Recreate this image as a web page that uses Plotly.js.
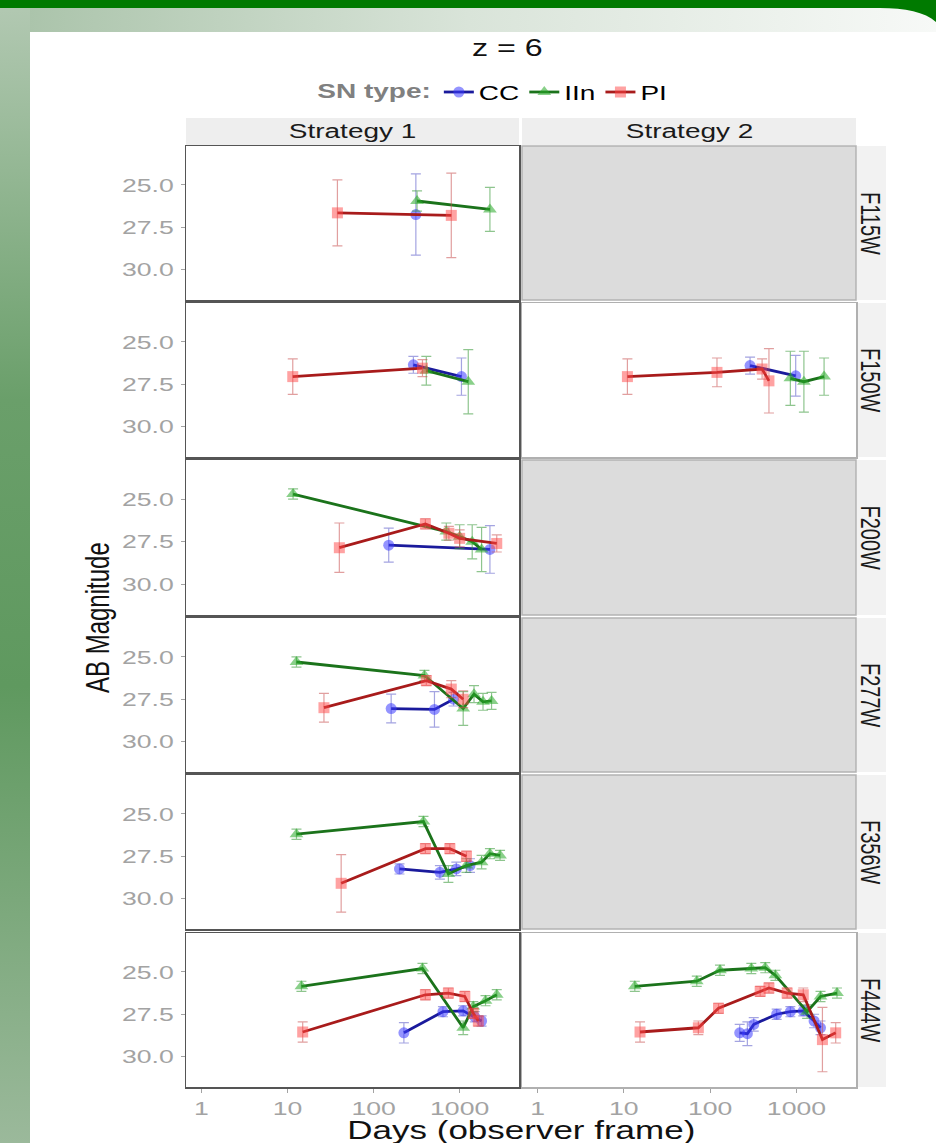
<!DOCTYPE html>
<html><head><meta charset="utf-8">
<script src="https://cdn.plot.ly/plotly-3.0.1.min.js"></script>
<style>
html,body{margin:0;padding:0;}
body{width:936px;height:1143px;position:relative;overflow:hidden;background:#fff;}
#bg{position:absolute;left:0;top:0;width:936px;height:1143px;}
#plot{position:absolute;left:0;top:0;width:936px;height:1143px;}
</style></head>
<body>
<div id="bg">
<svg width="936" height="1143" xmlns="http://www.w3.org/2000/svg">
<defs>
<linearGradient id="lg" x1="0" y1="0" x2="0" y2="1">
<stop offset="0" stop-color="#b3c9b3"/><stop offset="0.35" stop-color="#6a9f6a"/><stop offset="0.6" stop-color="#5f995f"/><stop offset="1" stop-color="#9bb99b"/>
</linearGradient>
<linearGradient id="tg" x1="0" y1="0" x2="1" y2="0">
<stop offset="0" stop-color="#a8c2a8"/><stop offset="0.5" stop-color="#d9e4d9"/><stop offset="1" stop-color="#f7f9f7"/>
</linearGradient>
</defs>
<rect x="0" y="0" width="936" height="1143" fill="#ffffff"/>
<rect x="0" y="0" width="936" height="32" fill="url(#tg)"/>
<rect x="0" y="0" width="30" height="1143" fill="url(#lg)"/>
<path d="M0,0 H936 V22 C925,12 905,8 880,8 H0 Z" fill="#007a00"/>
</svg>
</div>
<div id="plot"></div>
<script>
// ---- categories / labels ----
const filters = ["F115W","F150W","F200W","F277W","F356W","F444W"];
const strategies = ["Strategy 1","Strategy 2"];
const snTypes = ["CC","IIn","PI"];
const yTickVals = [25, 27.5, 30];
const yTickText = ["25.0","27.5","30.0"];
const xTickVals = [1, 10, 100, 1000];
const xTickText = ["1","10","100","1000"];

// ---- CC, Strategy 1 ----
const cc_s1_filter = ["F115W","F150W","F150W","F200W","F200W","F277W","F277W","F277W","F356W","F356W","F356W","F356W","F444W","F444W","F444W","F444W","F444W"];
const cc_s1_days   = [310, 290, 1050, 150, 2250, 160, 510, 850, 200, 590, 915, 1320, 225, 640, 1100, 1500, 1800];
const cc_s1_mag    = [26.75, 26.35, 27.05, 27.7, 27.95, 28.05, 28.1, 27.5, 28.25, 28.45, 28.25, 28.05, 28.6, 27.35, 27.3, 27.65, 27.9];
const cc_s1_err    = [2.4, 0.5, 1.1, 1.0, 1.4, 0.85, 1.05, 0.4, 0.3, 0.4, 0.4, 0.4, 0.6, 0.3, 0.3, 0.3, 0.3];

// ---- CC, Strategy 2 ----
const cc_s2_filter = ["F150W","F150W","F444W","F444W","F444W","F444W","F444W","F444W","F444W","F444W"];
const cc_s2_days   = [290, 980, 220, 270, 320, 590, 850, 1200, 1600, 1900];
const cc_s2_mag    = [26.4, 27.0, 28.6, 28.65, 28.1, 27.5, 27.35, 27.3, 27.9, 28.3];
const cc_s2_err    = [0.5, 1.2, 0.5, 0.7, 0.4, 0.3, 0.3, 0.3, 0.4, 0.4];

// ---- IIn, Strategy 1 ----
const iin_s1_filter = ["F115W","F115W","F150W","F150W","F200W","F200W","F200W","F200W","F200W","F277W","F277W","F277W","F277W","F277W","F277W","F356W","F356W","F356W","F356W","F356W","F356W","F356W","F444W","F444W","F444W","F444W","F444W","F444W"];
const iin_s1_days   = [320, 2250, 410, 1260, 11.6, 700, 1000, 1400, 1800, 12.7, 390, 1100, 1470, 1870, 2350, 12.7, 380, 740, 1200, 1800, 2250, 2950, 14.5, 370, 1100, 1440, 2000, 2700];
const iin_s1_mag    = [25.95, 26.45, 26.7, 27.35, 24.7, 26.9, 27.2, 27.5, 27.95, 25.3, 26.1, 28.05, 27.2, 27.65, 27.6, 26.2, 25.45, 28.55, 28.05, 27.85, 27.35, 27.45, 25.85, 24.8, 28.3, 27.05, 26.7, 26.35];
const iin_s1_err    = [0.6, 1.3, 0.85, 1.9, 0.3, 0.5, 0.7, 1.0, 1.3, 0.3, 0.3, 1.0, 0.5, 0.5, 0.5, 0.3, 0.3, 0.5, 0.4, 0.4, 0.3, 0.3, 0.3, 0.3, 0.4, 0.3, 0.3, 0.3];

// ---- IIn, Strategy 2 ----
const iin_s2_filter = ["F150W","F150W","F150W","F444W","F444W","F444W","F444W","F444W","F444W","F444W","F444W","F444W"];
const iin_s2_days   = [850, 1220, 2090, 13.4, 70, 130, 300, 435, 570, 1330, 1900, 2950];
const iin_s2_mag    = [27.15, 27.35, 27.05, 25.85, 25.55, 24.9, 24.8, 24.75, 25.2, 27.35, 26.45, 26.25];
const iin_s2_err    = [1.6, 1.8, 1.1, 0.3, 0.3, 0.3, 0.3, 0.3, 0.3, 0.4, 0.3, 0.3];

// ---- PI, Strategy 1 ----
const pi_s1_filter = ["F115W","F115W","F150W","F150W","F200W","F200W","F200W","F200W","F200W","F277W","F277W","F277W","F277W","F356W","F356W","F356W","F356W","F444W","F444W","F444W","F444W","F444W","F444W"];
const pi_s1_days   = [38, 800, 11.5, 370, 40, 400, 750, 1000, 2700, 26.5, 410, 800, 1100, 42, 400, 770, 1200, 15, 400, 740, 1150, 1440, 1650];
const pi_s1_mag    = [26.65, 26.8, 27.05, 26.55, 27.85, 26.45, 27.0, 27.3, 27.6, 28.0, 26.4, 26.9, 27.5, 29.1, 27.05, 27.05, 27.5, 28.55, 26.35, 26.25, 26.45, 27.45, 27.9];
const pi_s1_err    = [1.95, 2.5, 1.05, 0.5, 1.45, 0.3, 0.4, 0.5, 0.5, 0.85, 0.3, 0.5, 0.5, 1.7, 0.3, 0.3, 0.3, 0.6, 0.3, 0.3, 0.3, 0.3, 0.3];

// ---- PI, Strategy 2 ----
const pi_s2_filter = ["F150W","F150W","F150W","F150W","F444W","F444W","F444W","F444W","F444W","F444W","F444W","F444W","F444W"];
const pi_s2_days   = [11, 120, 400, 480, 15.4, 73, 125, 380, 480, 780, 1200, 2000, 2850];
const pi_s2_mag    = [27.05, 26.8, 26.6, 27.3, 28.55, 28.3, 27.15, 26.15, 25.95, 26.25, 26.35, 29.0, 28.6];
const pi_s2_err    = [1.05, 0.85, 0.6, 1.9, 0.6, 0.4, 0.3, 0.3, 0.3, 0.3, 0.4, 1.9, 0.6];

// ---- layout geometry (pixels) ----
const W = 936, H = 1143;
const colX = [[186, 519], [522, 856]];
const rowY = [[146, 300], [303, 457], [460, 615], [618, 772], [775, 929], [933, 1087]];
const px = v => v / W;
const py = v => 1 - v / H;
const STRETCH = 1.4;   // reference text is horizontally stretched
const LEGEND_CENTER = 494;

const styles = {
  CC:  {line: '#1a1a9c', marker: 'rgba(60,60,255,0.55)', err: 'rgba(90,90,200,0.55)', symbol: 'circle', size: 11},
  IIn: {line: '#1b731b', marker: 'rgba(40,170,40,0.55)', err: 'rgba(50,150,50,0.55)', symbol: 'triangle-up', size: 12},
  PI:  {line: '#a81b1b', marker: 'rgba(255,70,70,0.5)', err: 'rgba(200,80,80,0.55)', symbol: 'square', size: 11}
};

const traces = [];
const shownLegend = {};
function addSeries(type, si, filt, days, mag, err) {
  const st = styles[type];
  filters.forEach((f, fi) => {
    const idx = filt.map((v, i) => v === f ? i : -1).filter(i => i >= 0);
    if (!idx.length) return;
    const k = fi * 2 + si + 1;
    traces.push({
      type: 'scatter', mode: 'lines+markers',
      x: idx.map(i => days[i]), y: idx.map(i => mag[i]),
      error_y: {type: 'data', array: idx.map(i => err[i]), visible: true, color: st.err, thickness: 1.2, width: 5},
      xaxis: k === 1 ? 'x' : 'x' + k, yaxis: k === 1 ? 'y' : 'y' + k,
      line: {color: st.line, width: 2.8},
      marker: {symbol: st.symbol, size: st.size, color: st.marker},
      name: type, legendgroup: type, showlegend: !shownLegend[type],
      hoverinfo: 'skip'
    });
    shownLegend[type] = true;
  });
}
addSeries('CC', 0, cc_s1_filter, cc_s1_days, cc_s1_mag, cc_s1_err);
addSeries('CC', 1, cc_s2_filter, cc_s2_days, cc_s2_mag, cc_s2_err);
addSeries('IIn', 0, iin_s1_filter, iin_s1_days, iin_s1_mag, iin_s1_err);
addSeries('IIn', 1, iin_s2_filter, iin_s2_days, iin_s2_mag, iin_s2_err);
addSeries('PI', 0, pi_s1_filter, pi_s1_days, pi_s1_mag, pi_s1_err);
addSeries('PI', 1, pi_s2_filter, pi_s2_days, pi_s2_mag, pi_s2_err);

const tickFont = {family: 'Liberation Sans, Arial, sans-serif', size: 19, color: '#a3a3a3'};
const layout = {
  width: W, height: H,
  margin: {l: 0, r: 0, t: 0, b: 0},
  paper_bgcolor: 'rgba(0,0,0,0)', plot_bgcolor: '#ffffff',
  font: {family: 'Liberation Sans, Arial, sans-serif', color: '#000'},
  showlegend: true,
  legend: {
    orientation: 'h', x: px(LEGEND_CENTER), y: py(92), xanchor: 'center', yanchor: 'middle',
    font: {size: 20, color: '#000'}, bgcolor: 'rgba(0,0,0,0)',
    title: {text: '<b>SN type:</b>', font: {size: 20, color: '#808080'}, side: 'left'},
    itemwidth: 30, tracegroupgap: 0
  },
  shapes: [], annotations: []
};

const hasData = new Set(traces.map(t => t.xaxis));
filters.forEach((f, fi) => {
  strategies.forEach((s, si) => {
    const k = fi * 2 + si + 1;
    const xa = 'xaxis' + (k === 1 ? '' : k), ya = 'yaxis' + (k === 1 ? '' : k);
    const xid = k === 1 ? 'x' : 'x' + k, yid = k === 1 ? 'y' : 'y' + k;
    const border = si === 0 ? '#555555' : '#b0b0b0';
    layout[xa] = {
      domain: [px(colX[si][0]), px(colX[si][1])], anchor: yid,
      type: 'log', range: [-0.18, 3.69], showgrid: false, zeroline: false,
      showline: true, mirror: true, linecolor: border, linewidth: 1.5,
      tickvals: xTickVals, ticktext: xTickText, showticklabels: fi === 5,
      ticks: fi === 5 ? 'outside' : '', ticklen: 4, tickcolor: '#a3a3a3', tickfont: tickFont
    };
    layout[ya] = {
      domain: [py(rowY[fi][1]), py(rowY[fi][0])], anchor: xid,
      range: [31.8, 22.7], showgrid: false, zeroline: false,
      showline: true, mirror: true, linecolor: border, linewidth: 1.5,
      tickvals: yTickVals, ticktext: yTickText, showticklabels: si === 0,
      ticks: si === 0 ? 'outside' : '', ticklen: 4, tickcolor: '#a3a3a3', tickfont: tickFont,
      ticklabelstandoff: 3
    };
    if (!hasData.has(xid)) {
      layout.shapes.push({type: 'rect', xref: 'paper', yref: 'paper',
        x0: px(colX[si][0]), x1: px(colX[si][1]), y0: py(rowY[fi][1]), y1: py(rowY[fi][0]),
        fillcolor: '#dcdcdc', line: {width: 1.5, color: '#b3b3b3'}, layer: 'above'});
    }
  });
});

// strips: top (strategies)
strategies.forEach((s, si) => {
  layout.shapes.push({type: 'rect', xref: 'paper', yref: 'paper', x0: px(colX[si][0]), x1: px(colX[si][1]),
    y0: py(145), y1: py(118), fillcolor: '#eeeeee', line: {width: 0}, layer: 'below'});
  layout.annotations.push({text: s, xref: 'paper', yref: 'paper', x: px((colX[si][0] + colX[si][1]) / 2), y: py(131),
    xanchor: 'center', yanchor: 'middle', showarrow: false, font: {size: 20, color: '#1a1a1a'}});
});
// strips: right (filters)
filters.forEach((f, fi) => {
  layout.shapes.push({type: 'rect', xref: 'paper', yref: 'paper', x0: px(857), x1: px(886),
    y0: py(rowY[fi][1]), y1: py(rowY[fi][0]), fillcolor: '#f2f2f2', line: {width: 0}, layer: 'below'});
  layout.annotations.push({text: f, xref: 'paper', yref: 'paper', x: px(871), y: py((rowY[fi][0] + rowY[fi][1]) / 2),
    xanchor: 'center', yanchor: 'middle', textangle: 90, showarrow: false, font: {size: 20, color: '#1a1a1a'}});
});
// titles
layout.annotations.push({text: 'z = 6', xref: 'paper', yref: 'paper', x: px(508), y: py(48),
  xanchor: 'center', yanchor: 'middle', showarrow: false, font: {size: 23, color: '#111'}});
layout.annotations.push({text: 'AB Magnitude', xref: 'paper', yref: 'paper', x: px(97), y: py(618),
  xanchor: 'center', yanchor: 'middle', textangle: -90, showarrow: false, font: {size: 24, color: '#111'}});
layout.annotations.push({text: 'Days (observer frame)', xref: 'paper', yref: 'paper', x: px(521), y: py(1130),
  xanchor: 'center', yanchor: 'middle', showarrow: false, font: {size: 25, color: '#111'}});

// horizontal stretch of text about its anchor, in screen space
function stretchText(gd, s) {
  gd.querySelectorAll('svg.main-svg text').forEach(t => {
    if (t.closest('.legend')) return;
    const r = t.getBoundingClientRect();
    if (!r.width) return;
    const svg = t.ownerSVGElement;
    const sr = svg.getBoundingClientRect();
    const ctm = t.getCTM();
    const rotated = Math.abs(ctm.b) > 0.5;
    const anchor = t.getAttribute('text-anchor') || 'start';
    let ax;
    if (rotated || anchor === 'middle') ax = r.left + r.width / 2;
    else if (anchor === 'end') ax = r.right;
    else ax = r.left;
    ax -= sr.left;
    const S = svg.createSVGMatrix().translate(ax, 0).scaleNonUniform(s, 1).translate(-ax, 0);
    const P = t.parentNode.getCTM();
    const own = t.transform.baseVal.consolidate();
    const O = own ? own.matrix : svg.createSVGMatrix();
    const M = P.inverse().multiply(S).multiply(P).multiply(O);
    t.setAttribute('transform', 'matrix(' + [M.a, M.b, M.c, M.d, M.e, M.f].join(',') + ')');
  });
}
// legend: stretch texts and shift following entries so nothing overlaps
function stretchLegend(gd, s) {
  const leg = gd.querySelector('g.legend');
  if (!leg) return;
  leg.querySelectorAll('[clip-path]').forEach(el => el.removeAttribute('clip-path'));
  const prep = (el, x0) => {
    const old = el.getAttribute('transform') || '';
    el.setAttribute('transform', 'translate(' + x0 + ',0) scale(' + s + ',1) translate(' + (-x0) + ',0) ' + old);
  };
  let extra = 0;
  const title = leg.querySelector('.legendtitletext');
  if (title) {
    const b = title.getBBox();
    prep(title, b.x);
    extra += (s - 1) * b.width;
  }
  const items = Array.from(leg.querySelectorAll('g.traces'));
  items.forEach(g => {
    const tr = g.transform.baseVal.consolidate();
    const m = tr ? tr.matrix : {e: 0, f: 0};
    g.setAttribute('transform', 'translate(' + (m.e + extra) + ',' + m.f + ')');
    const txt = g.querySelector('text.legendtext');
    if (txt) {
      const b = txt.getBBox();
      prep(txt, b.x);
      extra += (s - 1) * b.width;
    }
  });
  const lt = leg.transform.baseVal.consolidate();
  const lm = lt ? lt.matrix : {e: 0, f: 0};
  leg.setAttribute('transform', 'translate(' + (lm.e - extra / 2) + ',' + lm.f + ')');
  const bg = leg.querySelector('rect.bg');
  if (bg) bg.setAttribute('width', parseFloat(bg.getAttribute('width') || 0) + extra);
}

Plotly.newPlot('plot', traces, layout, {staticPlot: true, displayModeBar: false}).then(gd => {
  stretchText(gd, STRETCH);
  stretchLegend(gd, STRETCH);
});
</script>
</body></html>
